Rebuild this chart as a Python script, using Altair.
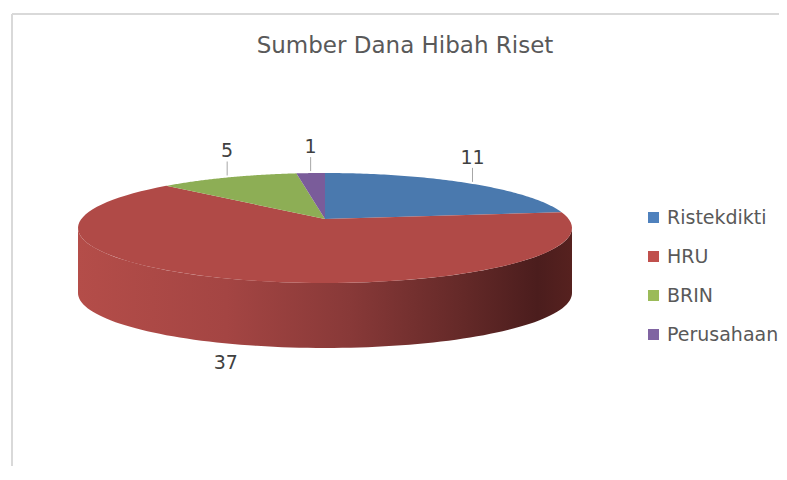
import altair as alt
import pandas as pd

# ---- data ----
categories = ["Ristekdikti", "HRU", "BRIN", "Perusahaan"]
values = [11, 37, 5, 1]
slice_colors = ["#4A79AE", "#B04A47", "#8DAE55", "#7A5C9A"]
legend_colors = ["#4F81BD", "#C0504D", "#9BBB59", "#8064A2"]
title_text = "Sumber Dana Hibah Riset"

df = pd.DataFrame({"cat": categories, "val": values, "idx": list(range(len(categories)))})

# ---- layout (page pixel coordinates) ----
W, H = 771, 458
CX, CY, RX, RY = 325, 228, 247, 55
APEX_Y = 219
DEPTH = 65
N = 90
FONT = "DejaVu Sans"

xs = alt.Scale(domain=[8, 8 + W], zero=False, nice=False)
ys = alt.Scale(domain=[8, 8 + H], zero=False, nice=False, reverse=True)

base = (
    alt.Chart(df)
    .transform_joinaggregate(total="sum(val)")
    .transform_window(cum="sum(val)", sort=[alt.SortField("idx")], frame=[None, 0])
    .transform_calculate(
        a0="(datum.cum - datum.val) / datum.total * 2 * PI",
        a1="datum.cum / datum.total * 2 * PI",
    )
)

color_scale = alt.Scale(domain=categories, range=slice_colors)

# top faces of the slices (elliptical sectors)
slices = (
    base.transform_calculate(pts=f"sequence(-1, {N + 1})")
    .transform_flatten(["pts"], as_=["i"])
    .transform_calculate(
        ang=f"datum.a0 + (datum.a1 - datum.a0) * max(datum.i, 0) / {N}",
        px=f"datum.i < 0 ? {CX} : {CX} + {RX} * sin(datum.ang)",
        py=f"datum.i < 0 ? {APEX_Y} : {CY} - {RY} * cos(datum.ang)",
    )
    .mark_line(filled=True, interpolate="linear")
    .encode(
        x=alt.X("px:Q", scale=xs, axis=None),
        y=alt.Y("py:Q", scale=ys, axis=None),
        color=alt.Color("cat:N", scale=color_scale, legend=None),
        order=alt.Order("i:Q"),
        detail="cat:N",
    )
)

side_gradient = alt.LinearGradient(
    gradient="linear",
    stops=[
        alt.GradientStop(color="#B44D49", offset=0),
        alt.GradientStop(color="#A44543", offset=0.3),
        alt.GradientStop(color="#883938", offset=0.55),
        alt.GradientStop(color="#642928", offset=0.78),
        alt.GradientStop(color="#4B1D1D", offset=0.93),
        alt.GradientStop(color="#56211F", offset=1),
    ],
    x1=0, x2=1, y1=0, y2=0,
)

# visible front wall of the pie
side = (
    base.transform_calculate(s0="max(datum.a0, PI / 2)", s1="min(datum.a1, 3 * PI / 2)")
    .transform_filter("datum.s1 > datum.s0")
    .transform_calculate(pts=f"sequence(0, {2 * N + 2})")
    .transform_flatten(["pts"], as_=["j"])
    .transform_calculate(
        t=f"datum.j <= {N} ? datum.j / {N} : 1 - (datum.j - {N + 1}) / {N}",
        ang="datum.s0 + (datum.s1 - datum.s0) * datum.t",
        px=f"{CX} + {RX} * sin(datum.ang)",
        py=f"{CY} - {RY} * cos(datum.ang) + (datum.j > {N} ? {DEPTH} : 0)",
    )
    .mark_line(filled=True, color=side_gradient, interpolate="linear")
    .encode(
        x=alt.X("px:Q", scale=xs, axis=None),
        y=alt.Y("py:Q", scale=ys, axis=None),
        order=alt.Order("j:Q"),
        detail="cat:N",
    )
)

lab = base.transform_calculate(
    mid="(datum.a0 + datum.a1) / 2",
    xr=f"{CX} + {RX} * sin(datum.mid)",
    yr=f"{CY} - {RY} * cos(datum.mid)",
    top="cos(datum.mid) >= 0",
    lx=f"datum.top ? datum.xr : {CX} + 1.4 * {RX} * sin(datum.mid)",
    ly=f"datum.top ? datum.yr - 26 : datum.yr + {DEPTH} + 17",
    l0="datum.yr - 2",
    l1="datum.yr - 16",
)

labels = lab.mark_text(font=FONT, fontSize=19, color="#404040", baseline="middle", align="center").encode(
    x=alt.X("lx:Q", scale=xs, axis=None),
    y=alt.Y("ly:Q", scale=ys, axis=None),
    text="val:Q",
)

leaders = lab.transform_filter("datum.top").mark_rule(color="#A6A6A6", strokeWidth=1).encode(
    x=alt.X("xr:Q", scale=xs, axis=None),
    y=alt.Y("l0:Q", scale=ys, axis=None),
    y2="l1:Q",
)

legend_layer = alt.Chart(df).mark_square(size=1, opacity=1).encode(
    x=alt.value(317),
    y=alt.value(242),
    fill=alt.Fill(
        "cat:N",
        scale=alt.Scale(domain=categories, range=legend_colors),
        sort=categories,
        legend=alt.Legend(
            title=None,
            orient="none",
            legendX=636,
            legendY=200,
            symbolType="square",
            symbolSize=121,
            symbolStrokeWidth=0,
            labelFont=FONT,
            labelFontSize=19,
            labelColor="#595959",
            labelOffset=4,
            labelLimit=200,
            rowPadding=19,
            padding=0,
        ),
    ),
)

one = pd.DataFrame({"t": [title_text]})
title = alt.Chart(one).mark_text(
    font=FONT, fontSize=23, color="#595959", align="center", baseline="alphabetic"
).encode(x=alt.value(397), y=alt.value(45), text="t:N")

frame_left = alt.Chart(one).mark_rule(color="#D9D9D9", strokeWidth=2).encode(
    x=alt.value(4), y=alt.value(6), y2=alt.value(H)
)
frame_top = alt.Chart(one).mark_rule(color="#D9D9D9", strokeWidth=2).encode(
    x=alt.value(4), x2=alt.value(W), y=alt.value(6)
)

chart = (
    alt.layer(frame_left, frame_top, legend_layer, side, slices, leaders, labels, title)
    .properties(width=W, height=H, padding=0, autosize="none", background="white")
    .configure_view(strokeWidth=0)
)

chart.save("out.html", embed_options={"renderer": "svg", "actions": False})
